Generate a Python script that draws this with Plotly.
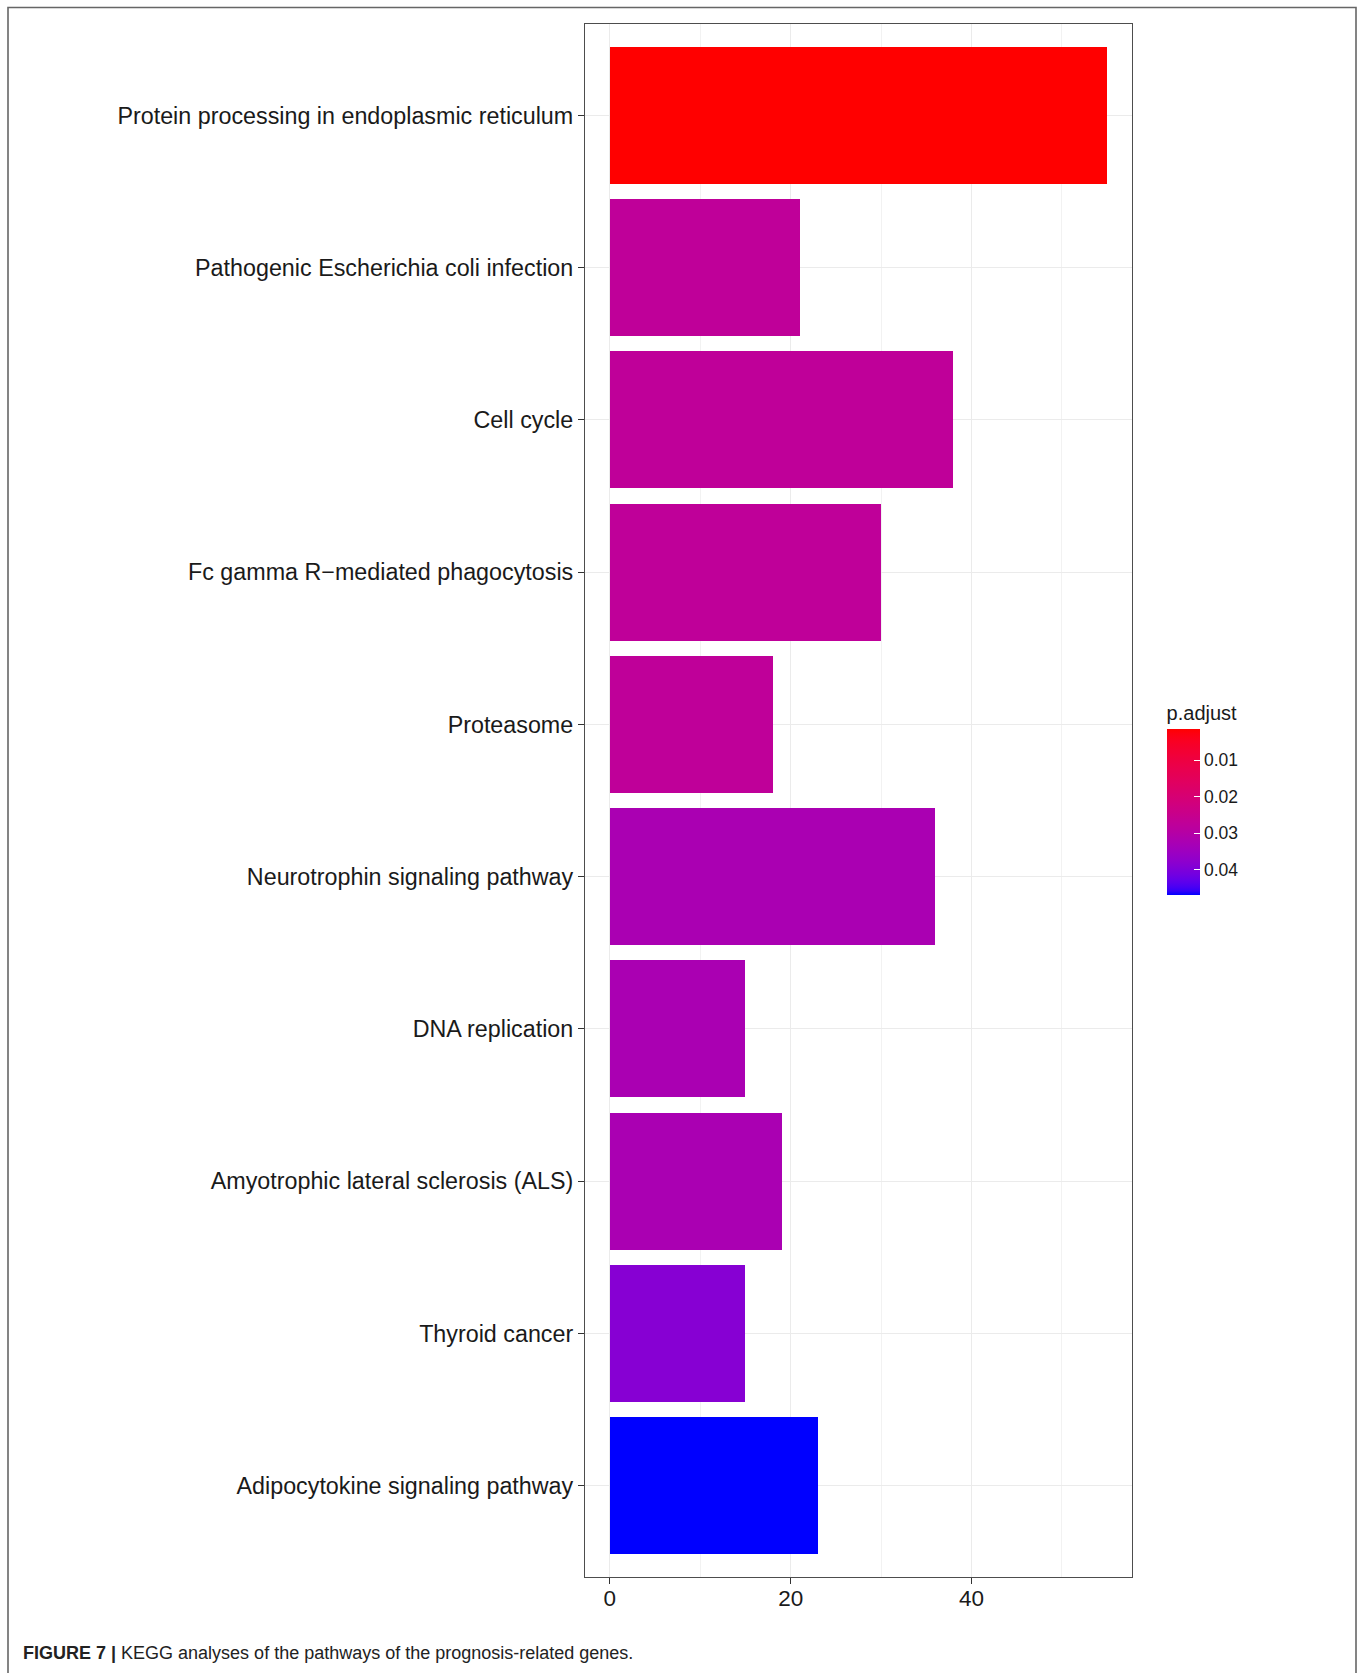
import numpy as np
import plotly.graph_objects as go

# KEGG pathways, listed top to bottom
pathways = [
    "Protein processing in endoplasmic reticulum",
    "Pathogenic Escherichia coli infection",
    "Cell cycle",
    "Fc gamma R\u2212mediated phagocytosis",
    "Proteasome",
    "Neurotrophin signaling pathway",
    "DNA replication",
    "Amyotrophic lateral sclerosis (ALS)",
    "Thyroid cancer",
    "Adipocytokine signaling pathway",
]
gene_counts = [55, 21, 38, 30, 18, 36, 15, 19, 15, 23]
p_adjust = [0.0015, 0.0274, 0.0274, 0.0274, 0.0274, 0.0324, 0.0324, 0.0324, 0.0388, 0.0470]

x_ticks = [0, 20, 40]
x_minor = [10, 30, 50]
cbar_ticks = [0.01, 0.02, 0.03, 0.04]
cbar_labels = ["0.01", "0.02", "0.03", "0.04"]


# ---- red -> blue gradient interpolated in CIE Lab (ggplot-style) ----
def _srgb_to_lab(rgb):
    c = np.array(rgb, dtype=float) / 255.0
    c = np.where(c <= 0.04045, c / 12.92, ((c + 0.055) / 1.055) ** 2.4)
    m = np.array([[0.4124, 0.3576, 0.1805],
                  [0.2126, 0.7152, 0.0722],
                  [0.0193, 0.1192, 0.9505]])
    xyz = m @ c / np.array([0.95047, 1.0, 1.08883])
    f = np.where(xyz > 0.008856, np.cbrt(xyz), 7.787 * xyz + 16 / 116)
    return np.array([116 * f[1] - 16, 500 * (f[0] - f[1]), 200 * (f[1] - f[2])])


def _lab_to_srgb(lab):
    L, a, b = lab
    fy = (L + 16) / 116
    f = np.array([fy + a / 500, fy, fy - b / 200])
    xyz = np.where(f ** 3 > 0.008856, f ** 3, (f - 16 / 116) / 7.787)
    xyz = xyz * np.array([0.95047, 1.0, 1.08883])
    m = np.array([[3.2406, -1.5372, -0.4986],
                  [-0.9689, 1.8758, 0.0415],
                  [0.0557, -0.2040, 1.0570]])
    c = np.clip(m @ xyz, 0, 1)
    c = np.where(c <= 0.0031308, 12.92 * c, 1.055 * c ** (1 / 2.4) - 0.055)
    r, g, bl = np.round(np.clip(c, 0, 1) * 255).astype(int)
    return f"rgb({r},{g},{bl})"


lab_lo = _srgb_to_lab((255, 0, 0))
lab_hi = _srgb_to_lab((0, 0, 255))
# The colour bar is drawn with small p-values on top, so colours are keyed on
# -p: position 0 (bottom, largest p) is blue and position 1 (top) is red.
colorscale = [[t, _lab_to_srgb(lab_hi + (lab_lo - lab_hi) * t)] for t in np.linspace(0, 1, 41)]
neg_p = [-v for v in p_adjust]

# ---- page geometry (pixels) ----
W, H = 1363, 1673
PL, PR, PT, PB = 585, 1132, 23.5, 1577.5
pw, ph = PR - PL, PB - PT


def px_x(x):
    return (x - PL) / pw


def px_y(y):
    return (PB - y) / ph


FONT = "Liberation Sans, Arial, Helvetica, sans-serif"
GRID = "#EBEBEB"

fig = go.Figure()
fig.add_trace(go.Bar(
    x=gene_counts,
    y=pathways,
    orientation="h",
    width=0.9,
    marker=dict(color=neg_p, coloraxis="coloraxis", line=dict(width=0)),
    customdata=p_adjust,
    hovertemplate="%{y}<br>Count: %{x}<br>p.adjust: %{customdata}<extra></extra>",
))

cmin, cmax = min(p_adjust), max(p_adjust)
cb_top, cb_bot = 730.0, 895.5
cb_left, cb_w = 1166.6, 33.0
title_h = 27.8
region_top = cb_top - title_h

fig.update_layout(
    width=W, height=H,
    margin=dict(l=PL, r=W - PR, t=PT, b=H - PB, pad=0),
    paper_bgcolor="white",
    plot_bgcolor="white",
    font=dict(family=FONT, color="#1a1a1a"),
    showlegend=False,
    bargap=0,
    coloraxis=dict(
        colorscale=colorscale,
        cmin=-cmax, cmax=-cmin,
        colorbar=dict(
            title=dict(text="p.adjust", side="top", font=dict(size=20, color="#1a1a1a")),
            x=px_x(cb_left), xanchor="left", xpad=0,
            y=px_y((region_top + cb_bot) / 2), yanchor="middle", ypad=0,
            len=cb_bot - region_top, lenmode="pixels",
            thickness=cb_w, thicknessmode="pixels",
            outlinewidth=0,
            tickvals=[-v for v in cbar_ticks], ticktext=cbar_labels,
            ticks="inside", ticklen=6, tickwidth=1, tickcolor="white",
            tickfont=dict(size=17.5, color="#1a1a1a"),
        ),
    ),
    xaxis=dict(
        range=[-2.75, 57.75],
        tickvals=x_ticks,
        ticktext=[str(v) for v in x_ticks],
        ticks="outside", ticklen=6, tickwidth=1.1, tickcolor="#333333",
        tickfont=dict(size=22.5, color="#1a1a1a"),
        ticklabelstandoff=-5,
        showgrid=True, gridcolor=GRID, gridwidth=1.3,
        minor=dict(tickvals=x_minor, showgrid=True, gridcolor="#F2F2F2", gridwidth=1, ticks=""),
        showline=True, mirror=True, linecolor="#4d4d4d", linewidth=1.2,
        zeroline=False,
    ),
    yaxis=dict(
        categoryorder="array", categoryarray=pathways,
        range=[len(pathways) - 0.4, -0.6],
        ticks="outside", ticklen=6, tickwidth=1.1, tickcolor="#333333",
        tickfont=dict(size=23.3, color="#1a1a1a"),
        showgrid=True, gridcolor=GRID, gridwidth=1.3,
        showline=True, mirror=True, linecolor="#4d4d4d", linewidth=1.2,
        zeroline=False,
    ),
)

# white tick marks on the left edge of the colour bar (ggplot draws both sides)
shapes = []
for v in cbar_ticks:
    yy = cb_top + (v - cmin) / (cmax - cmin) * (cb_bot - cb_top)
    shapes.append(dict(type="line", xref="paper", yref="paper",
                       x0=px_x(cb_left), x1=px_x(cb_left + 6),
                       y0=px_y(yy), y1=px_y(yy),
                       line=dict(color="white", width=1)))

# outer figure frame
shapes.append(dict(type="rect", xref="paper", yref="paper",
                   x0=px_x(8), x1=px_x(1356), y0=px_y(1700), y1=px_y(7),
                   line=dict(color="#666666", width=1.6), fillcolor="rgba(0,0,0,0)",
                   layer="below"))
fig.update_layout(shapes=shapes)

fig.add_annotation(
    xref="paper", yref="paper",
    x=px_x(21), y=px_y(1654),
    xanchor="left", yanchor="middle",
    text="<b>FIGURE 7 |</b> KEGG analyses of the pathways of the prognosis-related genes.",
    showarrow=False,
    font=dict(family=FONT, size=18, color="#222222"),
)

fig.write_html("out.html")
